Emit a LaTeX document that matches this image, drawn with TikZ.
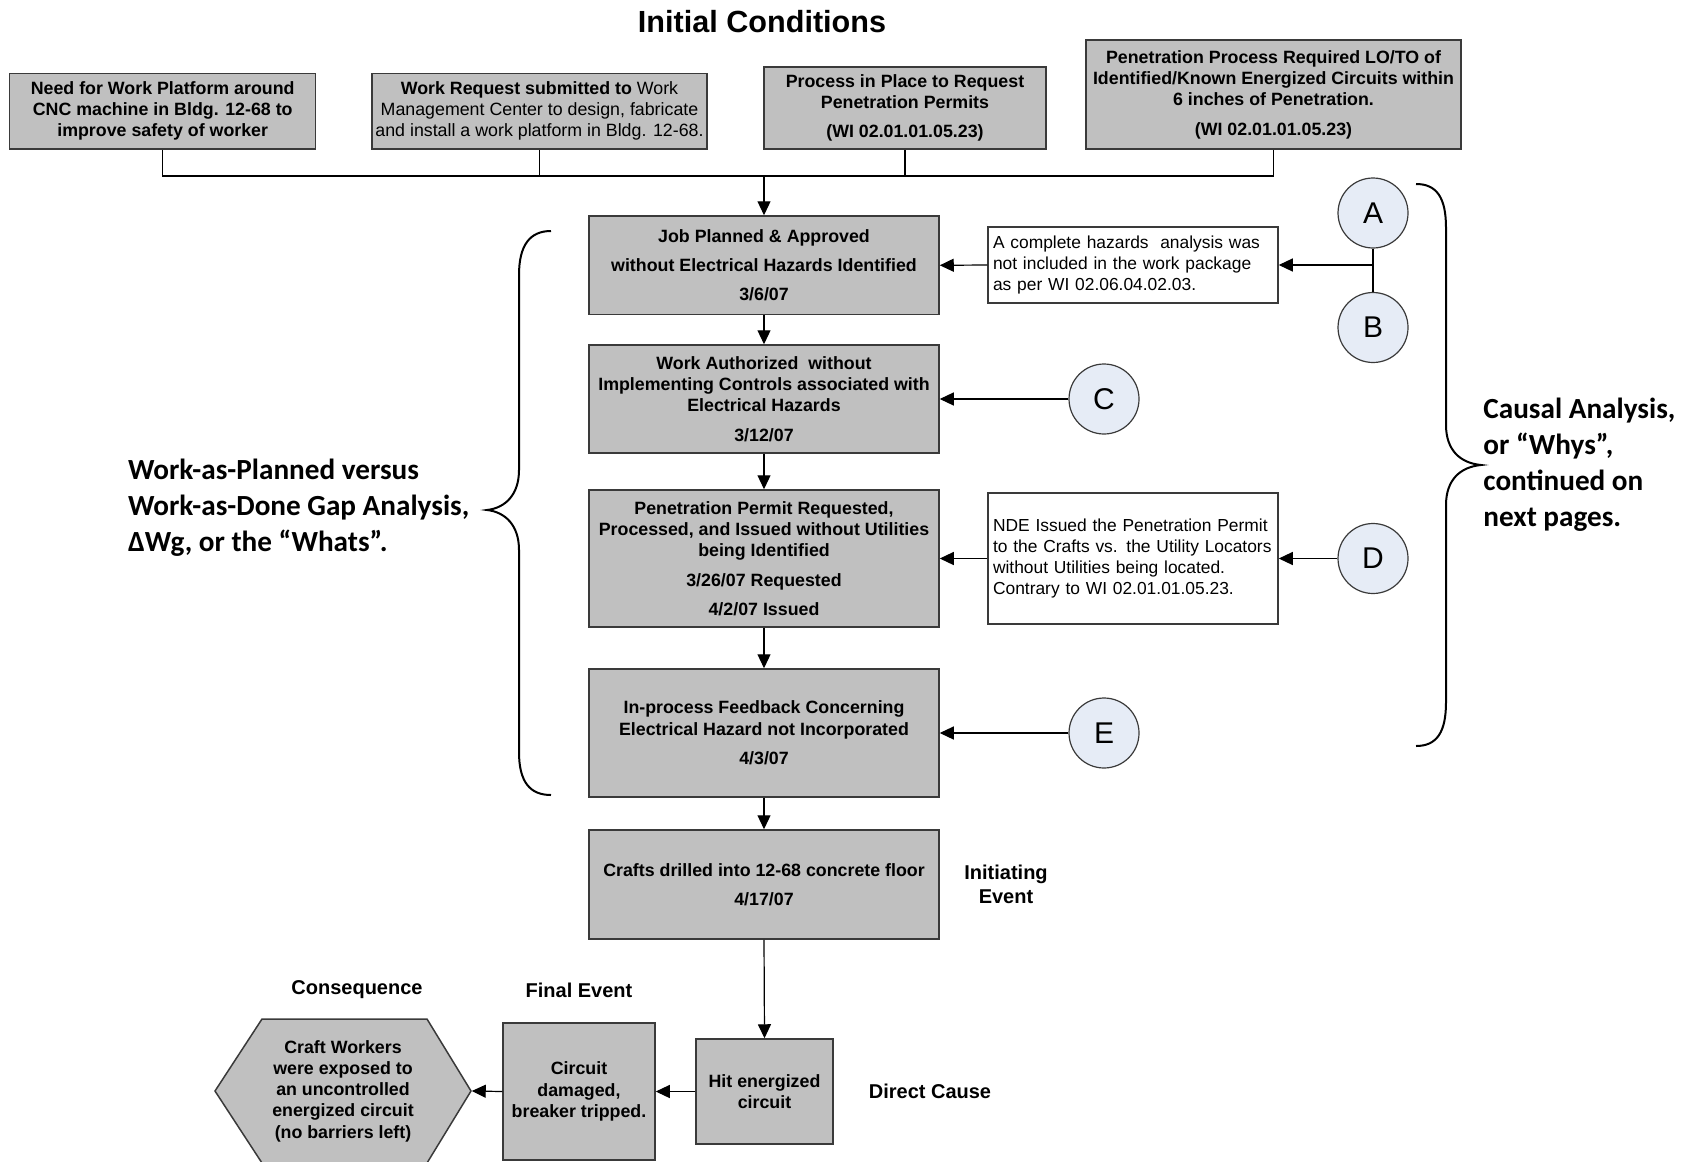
\documentclass[tikz,border=0pt]{standalone}
\usepackage{fontspec}
\setmainfont{Liberation Sans}
\newfontfamily\calfont{Carlito}
\usetikzlibrary{arrows.meta}

\definecolor{boxgray}{RGB}{192,192,192}
\definecolor{edgegray}{RGB}{58,58,58}
\definecolor{bubblefill}{RGB}{230,236,246}

\tikzset{
  gbox/.style 2 args={draw=edgegray, line width=0.75pt, fill=boxgray,
    minimum width=#1*0.5pt, minimum height=#2*0.5pt, inner sep=0pt,
    align=center, font=\fontsize{8.9pt}{10.65pt}\selectfont\bfseries},
  note/.style={draw=edgegray, line width=0.75pt, fill=white,
    text width=140pt, minimum height=#1*0.5pt, inner xsep=2.5pt,
    inner ysep=0pt, align=left, font=\fontsize{8.7pt}{10.65pt}\selectfont},
  bubble/.style={circle, draw=edgegray, line width=0.6pt, fill=bubblefill,
    minimum size=35pt, inner sep=0pt, font=\fontsize{15pt}{18pt}\selectfont},
  arr/.style={-{Triangle[length=7pt,width=6.5pt]}, line width=0.6pt},
  link/.style={line width=0.6pt},
  tag/.style={font=\fontsize{10pt}{12pt}\selectfont\bfseries, align=center, inner sep=0pt},
  remark/.style={font=\calfont\bfseries\fontsize{14.6pt}{18pt}\selectfont,
    align=left, anchor=west, inner sep=0pt},
  brace/.style={line width=1pt, black},
}

\begin{document}
\begin{tikzpicture}[x=0.5pt, y=-0.5pt]
  \useasboundingbox (0,0) rectangle (1695,1161);
  \clip (0,0) rectangle (1695,1161);

  % heading
  \node[font=\fontsize{15.3pt}{18pt}\selectfont\bfseries] (title) at (762,21.6) {Initial Conditions};

  % initial conditions
  \node[gbox={306}{75.5}, text depth=2pt] (b1) at (162.7,111.25)
    {Need for Work Platform around\\CNC machine in Bldg. 12-68 to\\improve safety of worker};
  \node[gbox={335}{75.5}, text depth=2pt] (b2) at (539.5,111.25)
    {Work Request submitted to \mdseries Work\\\mdseries Management Center to design, fabricate\\\mdseries and install a work platform in Bldg. 12-68.};
  \node[gbox={282}{82}] (b3) at (905,108)
    {Process in Place to Request\\Penetration Permits\\[4pt](WI 02.01.01.05.23)};
  \node[gbox={375}{109}] (b4) at (1273.5,94.5)
    {Penetration Process Required LO/TO of\\Identified/Known Energized Circuits within\\6 inches of Penetration.\\[4pt](WI 02.01.01.05.23)};

  % event chain
  \node[gbox={350}{98.6}] (job) at (764,265.3)
    {Job Planned \& Approved\\[4pt]without Electrical Hazards Identified\\[4pt]3/6/07};
  \node[gbox={350}{108}] (work) at (764,399)
    {Work Authorized\ \ without\\Implementing Controls associated with\\Electrical Hazards\\[4pt]3/12/07};
  \node[gbox={350}{137}] (perm) at (764,558.5)
    {Penetration Permit Requested,\\Processed, and Issued without Utilities\\being Identified\\[4pt]3/26/07 Requested\\[4pt]4/2/07 Issued};
  \node[gbox={350}{128}] (inproc) at (764,733)
    {In-process Feedback Concerning\\Electrical Hazard not Incorporated\\[4pt]4/3/07};
  \node[gbox={350}{109}] (crafts) at (764,884.5)
    {Crafts drilled into 12-68 concrete floor\\[4pt]4/17/07};
  \node[gbox={137}{105}] (hit) at (764.5,1091.5) {Hit energized\\circuit};
  \node[gbox={152}{137}] (circ) at (579,1091.5) {Circuit\\damaged,\\breaker tripped.};

  % consequence hexagon
  \draw[draw=edgegray, line width=0.75pt, fill=boxgray]
    (215,1091) -- (262,1019) -- (427,1019) -- (471,1091) -- (427,1163) -- (262,1163) -- cycle;
  \node[gbox={256}{144}, draw=none, fill=none] (hex) at (343,1091)
    {Craft Workers\\were exposed to\\an uncontrolled\\energized circuit\\(no barriers left)};

  % notes and causal factors
  \node[note=76] (noteA) at (1133,265)
    {\mbox{A complete hazards\ \ analysis was}\\\mbox{not included in the work package}\\\mbox{as per WI 02.06.04.02.03.}};
  \node[note=131] (noteD) at (1133,558.5)
    {\mbox{NDE Issued the Penetration Permit}\\\mbox{to the Crafts vs. the Utility Locators}\\\mbox{without Utilities being located.}\\\mbox{Contrary to WI 02.01.01.05.23.}};
  \node[bubble] (A) at (1373,213) {A};
  \node[bubble] (B) at (1373,327.5) {B};
  \node[bubble] (C) at (1104,399) {C};
  \node[bubble] (D) at (1373,558.5) {D};
  \node[bubble] (E) at (1104,733) {E};

  % side labels
  \node[tag] (initev) at (1006,884) {Initiating\\Event};
  \node[tag] (dircause) at (930,1091) {Direct Cause};
  \node[tag] (finalev) at (579,990) {Final Event};
  \node[tag] (conseq) at (357,990) {Consequence};
  \node[remark] (whats) at (127.6,508)
    {Work-as-Planned versus\\Work-as-Done Gap Analysis,\\ΔWg, or the “Whats”.};
  \node[remark] (whys) at (1483,464.5)
    {Causal Analysis,\\or “Whys”,\\continued on\\next pages.};

  % connectors: initial conditions bus
  \coordinate (bus) at (764,176);
  \draw[link] (b1.south) -- (b1.south |- bus) -- (b4.south |- bus) -- (b4.south);
  \draw[link] (b2.south) -- (b2.south |- bus);
  \draw[link] (b3.south) -- (b3.south |- bus);
  \draw[arr] (bus) -- (job.north);

  % connectors: event chain
  \draw[arr] (job.south) -- (work.north);
  \draw[arr] (work.south) -- (perm.north);
  \draw[arr] (perm.south) -- (inproc.north);
  \draw[arr] (inproc.south) -- (crafts.north);
  \draw[arr] (crafts.south) -- (hit.north);
  \draw[arr] (hit.west) -- (circ.east);
  \draw[arr] (circ.west) -- (hex.east);

  % connectors: causal factors
  \coordinate (abj) at (1373,265);
  \draw[link] (A.south) -- (B.north);
  \draw[arr] (abj) -- (noteA.east);
  \draw[arr] (noteA.west) -- (job.east);
  \draw[arr] (C.west) -- (work.east);
  \draw[arr] (D.west) -- (noteD.east);
  \draw[arr] (noteD.west) -- (perm.east);
  \draw[arr] (E.west) -- (inproc.east);

  % braces
  \draw[brace] (551,231) .. controls (530,231) and (519,245) .. (519,275)
    -- (519,470) .. controls (519,495) and (505,508) .. (487,510)
    .. controls (505,512) and (519,525) .. (519,550)
    -- (519,752) .. controls (519,782) and (530,795) .. (551,795);
  \draw[brace] (1416,184) .. controls (1437,184) and (1446,198) .. (1446,228)
    -- (1446,425) .. controls (1446,450) and (1460,463) .. (1481,465)
    .. controls (1460,467) and (1446,480) .. (1446,505)
    -- (1446,702) .. controls (1446,732) and (1437,746) .. (1416,746);
\end{tikzpicture}
\end{document}
